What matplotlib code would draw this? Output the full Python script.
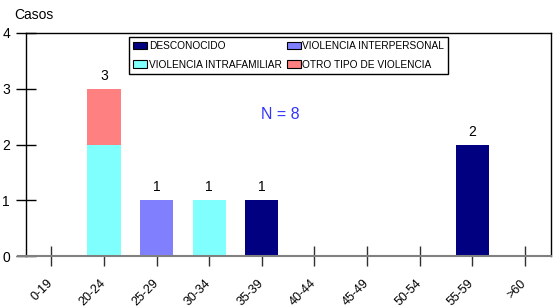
import matplotlib
matplotlib.use("Agg")
import matplotlib.pyplot as plt
import numpy as np

plt.rcParams['font.family'] = ['Liberation Sans', 'DejaVu Sans']

categories = ["0-19", "20-24", "25-29", "30-34", "35-39", "40-44", "45-49", "50-54", "55-59", ">60"]
desconocido = [0, 0, 0, 0, 1, 0, 0, 0, 2, 0]
interpersonal = [0, 0, 1, 0, 0, 0, 0, 0, 0, 0]
intrafamiliar = [0, 2, 0, 1, 0, 0, 0, 0, 0, 0]
otro = [0, 1, 0, 0, 0, 0, 0, 0, 0, 0]
totals = [a + b + c + d for a, b, c, d in zip(desconocido, interpersonal, intrafamiliar, otro)]

fig = plt.figure(figsize=(5.54, 3.08), dpi=100)
ax = fig.add_axes([26/554, 52/308, (551-26)/554, (256-33)/308])

x = np.arange(len(categories))
w = 0.63
b = np.zeros(len(categories))
series = [("DESCONOCIDO", desconocido, "#000080"),
          ("VIOLENCIA INTERPERSONAL", interpersonal, "#8080FF"),
          ("VIOLENCIA INTRAFAMILIAR", intrafamiliar, "#80FFFF"),
          ("OTRO TIPO DE VIOLENCIA", otro, "#FF8080")]
handles = {}
for name, vals, col in series:
    v = np.array(vals, dtype=float)
    h = ax.bar(x, v, w, bottom=b, color=col, label=name, zorder=2)
    handles[name] = h
    b += v

for xi, t in zip(x, totals):
    if t > 0:
        ax.text(xi, t + 0.23, str(t), ha='center', va='center', fontsize=10)

ax.set_xlim(-0.483, 9.5)
ax.set_ylim(0, 4)
ax.set_yticks([0, 1, 2, 3, 4])
ax.set_xticks(x)
ax.set_xticklabels(categories, rotation=45, ha='right', va='center',
                   rotation_mode='anchor', fontsize=9)
ax.tick_params(axis='y', direction='inout', length=15, width=1, labelsize=10, pad=4)
ax.tick_params(axis='x', direction='inout', length=15, width=1, color='#303030', pad=11)
for s in ['left', 'top', 'right']:
    ax.spines[s].set_color('black')
    ax.spines[s].set_linewidth(1)
ax.spines['bottom'].set_color('#808080')
ax.spines['bottom'].set_linewidth(1.5)
ax.plot([-8/525, 0.0], [0, 0], transform=ax.transAxes, color='#808080', lw=1.5, clip_on=False)

order = ["DESCONOCIDO", "VIOLENCIA INTRAFAMILIAR", "VIOLENCIA INTERPERSONAL", "OTRO TIPO DE VIOLENCIA"]
leg = ax.legend([handles[n] for n in order], order, ncol=2, loc='upper left',
                bbox_to_anchor=((129-26)/525, 1 - (37-33)/223),
                prop={'size': 7.3},
                frameon=True, fancybox=False, edgecolor='black', framealpha=1,
                handlelength=1.4, handleheight=0.8, handletextpad=0.15, columnspacing=0.5,
                labelspacing=0.85, borderpad=0.4, borderaxespad=0)
for p in leg.get_patches():
    p.set_edgecolor('black')
    p.set_linewidth(0.8)
leg.get_frame().set_linewidth(1)

ax.text(4.35, 2.53, "N = 8", color='#3333FF', fontsize=11.5, ha='center', va='center')
fig.text(14/554, 1 - 15/308, "Casos", fontsize=10, ha='left', va='center')

fig.savefig("out.png", dpi=100)
